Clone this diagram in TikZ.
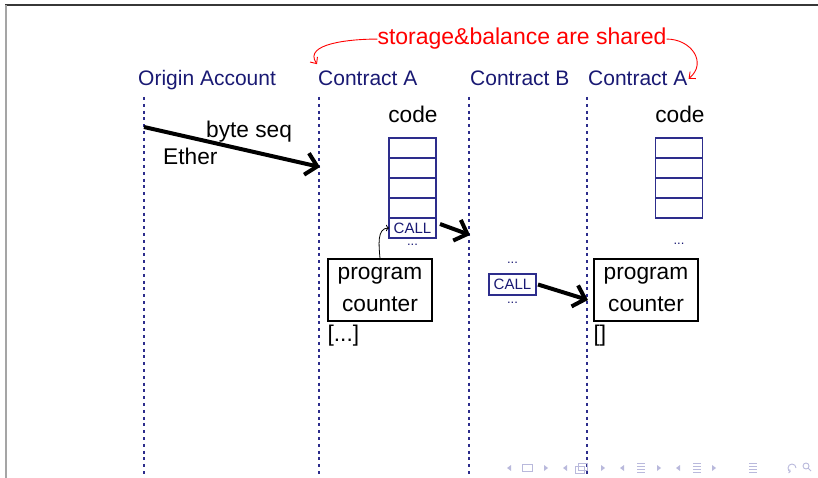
\documentclass[tikz,border=0pt]{standalone}
\usepackage{fontspec}
\setmainfont{Liberation Sans}
\usetikzlibrary{arrows.meta,positioning}
\definecolor{slnavy}{RGB}{25,25,115}
\definecolor{slblue}{RGB}{45,45,140}
\definecolor{slframe}{RGB}{55,55,55}
\definecolor{slside}{RGB}{165,165,165}
\definecolor{slnav}{RGB}{185,185,220}

\begin{document}
\begin{tikzpicture}[x=1pt,y=-1pt,
  txt/.style={font=\fontsize{22.7}{32}\selectfont,inner sep=0pt},
  lanelabel/.style={font=\fontsize{21}{25}\selectfont,inner sep=0pt,text=slnavy,anchor=base west},
  lane/.style={draw=slblue,line width=1.3pt,dash pattern=on 3pt off 3.8pt},
  cell/.style={draw=slblue,line width=1.2pt,minimum width=47pt,minimum height=20pt,
    inner sep=0pt,outer sep=0pt,font=\fontsize{15}{15}\selectfont,text=slnavy},
  dots/.style={font=\fontsize{13}{13}\selectfont,text=slnavy,inner sep=0pt},
  pc/.style={txt,draw=black,line width=1.2pt,minimum width=104pt,minimum height=62pt,align=center},
  push/.style={-{Straight Barb[length=11pt,width=22pt]},line width=4pt},
  note/.style={-{Straight Barb[length=5pt,width=9pt]},draw=red,line width=0.9pt},
  navicon/.style={draw=slnav,line width=0.9pt}]
  \useasboundingbox (0,0) rectangle (818,478);
  % slide frame
  \draw[slframe,line width=1.5pt] (5,5) -- (818,5);
  \draw[slside,line width=2pt] (6,5) -- (6,478);

  % lanes
  \node[lanelabel] (lblO) at (138,86) {Origin Account};
  \node[lanelabel] (lblA) at (318,86) {Contract A};
  \node[lanelabel] (lblB) at (470,86) {Contract B};
  \node[lanelabel] (lblA2) at (588,86) {Contract A};
  \foreach \x/\n in {144/O,319/A,469/B,587/C} {
    \coordinate (top\n) at (\x,97);
    \coordinate (bot\n) at (\x,478);
    \draw[lane] (top\n) -- (bot\n);
  }

  % shared state note
  \node[txt,text=red,font=\fontsize{23}{27}\selectfont,anchor=base] (shared) at (522,45)
    {storage\&balance are shared};
  \draw[note] (shared.west) to[out=180,in=125] ([xshift=-1pt,yshift=7pt]lblA.north west);
  \draw[note] (shared.east) to[out=0,in=40,looseness=1.4] ([xshift=1pt]lblA2.east);

  % transaction
  \coordinate (sendO) at (144,127);
  \coordinate (recvA) at (320,167);
  \node[txt,anchor=base west] (bytes) at (206,138) {byte seq};
  \node[txt,anchor=base west] (ether) at (163,165) {Ether};
  \draw[push] (sendO) -- (recvA);

  % code of contract A
  \node[txt,anchor=base] (code1) at (413,123) {code};
  \node[cell] (a1) at (412.5,148) {};
  \foreach \i [count=\j from 2] in {1,...,3}
    \node[cell,below=0pt of a\i] (a\j) {};
  \node[cell,below=0pt of a4] (call1) {CALL};
  \node[dots,below=6pt of call1] (rest1) {...};
  \node[pc] (pc1) at (380,290) {program\\counter};
  \node[txt,anchor=north west,yshift=-3pt] (stack1) at (pc1.south west) {[...]};
  \draw[-{To[length=3pt]},line width=0.8pt] (pc1.north) to[out=95,in=180] (call1.west);

  % message call into B
  \coordinate (callB) at (470,235);
  \draw[push] ([xshift=4pt,yshift=4pt]call1.east) -- (callB);
  \node[cell,minimum height=21pt] (call2) at (512.5,284.5) {CALL};
  \node[dots,above=10pt of call2] (pre2) {...};
  \node[dots,below=7pt of call2] (rest2) {...};

  % delegate back into A
  \node[txt,anchor=base] (code2) at (680,123) {code};
  \node[cell] (c1) at (679,148) {};
  \foreach \i [count=\j from 2] in {1,...,3}
    \node[cell,below=0pt of c\i] (c\j) {};
  \node[dots,below=25pt of c4] (rest3) {...};
  \node[pc] (pc2) at (646,290) {program\\counter};
  \node[txt,anchor=north west,yshift=-3pt] (stack2) at (pc2.south west) {[]};
  \coordinate (enterA) at (588,300);
  \draw[push] ([xshift=2pt]call2.east) -- (enterA);

  % navigation symbols
  \foreach \x in {509,565,622,678}
    \fill[slnav] (\x+2,465) -- (\x-2,468) -- (\x+2,471) -- cycle;
  \foreach \x in {546,603,659,714}
    \fill[slnav] (\x-2,465) -- (\x+2,468) -- (\x-2,471) -- cycle;
  \draw[navicon] (522,464) rectangle (532,471);
  \draw[navicon] (575,466) rectangle (584,473);
  \draw[navicon] (578,463) rectangle (587,470);
  \foreach \x in {641,697,753}
    \foreach \y in {463,466,469,472}
      \draw[navicon,line width=0.7pt] (\x-4,\y) -- (\x+4,\y);
  \draw[navicon,-{To[length=2pt]}] (796,468) arc (0:-250:4);
  \draw[navicon] (806,466) circle (3);
  \draw[navicon] (808.2,468.2) -- (811,471);
\end{tikzpicture}
\end{document}
